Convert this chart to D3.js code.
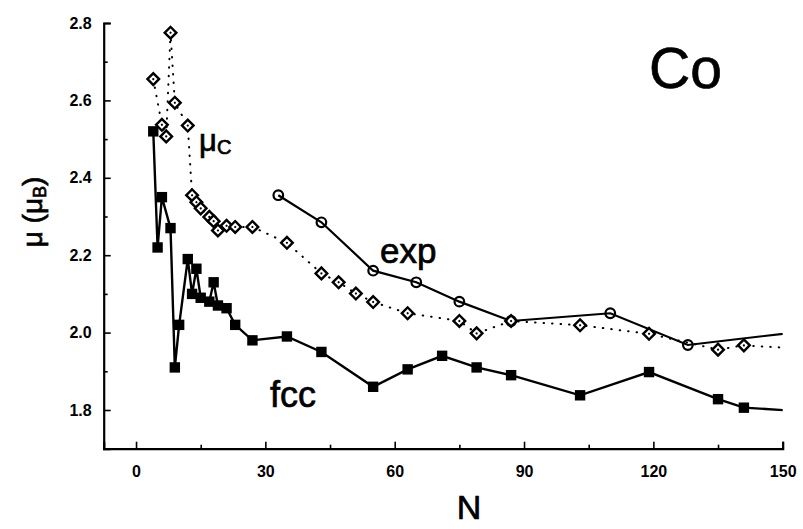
<!DOCTYPE html>
<html><head><meta charset="utf-8">
<script src="https://cdn.jsdelivr.net/npm/d3@7"></script>
<style>body{margin:0;background:#fff} svg{display:block}</style>
</head><body><svg id="c" width="803" height="529"></svg>
<script>
// ---- data ----
const fccN  = [4,5,6,8,9,10,12,13,14,15,17,18,19,21,23,27,35,43,55,63,71,79,87,103,119,135,141,160];
const fccMu = [2.52,2.22,2.35,2.27,1.91,2.02,2.19,2.10,2.165,2.09,2.08,2.13,2.07,2.063,2.02,1.98,1.99,1.95,1.86,1.905,1.94,1.91,1.89,1.838,1.898,1.828,1.806,1.793];
const expN  = [33,43,55,65,75,87,110,128,160];
const expMu = [2.355,2.285,2.16,2.13,2.08,2.03,2.05,1.968,2.01];
const mucN  = [4,6,7,8,9,12,13,14,15,17,18,19,21,23,27,35,43,47,51,55,63,75,79,87,103,119,135,141,160];
const mucMu = [2.655,2.537,2.507,2.775,2.594,2.535,2.355,2.337,2.321,2.299,2.288,2.264,2.276,2.273,2.273,2.232,2.153,2.13,2.101,2.079,2.05,2.03,1.998,2.03,2.019,1.997,1.956,1.967,1.955];
const xMajor = [0,30,60,90,120,150];
const xMinor = [15,45,75,105,135];
const yMajor = [1.8,2.0,2.2,2.4,2.6,2.8];
const yMinor = [1.9,2.1,2.3,2.5,2.7];

// ---- scales ----
const svg = d3.select("#c");
const x = d3.scaleLinear().domain([-7.5,150]).range([103.7,782.7]);
const y = d3.scaleLinear().domain([1.7,2.8]).range([448.7,23]);
const font = "'Liberation Sans', Arial, Helvetica, sans-serif";

svg.append("defs").append("clipPath").attr("id","clip")
  .append("rect").attr("x",x(-7.5)).attr("y",0).attr("width",x(150)-x(-7.5)).attr("height",529);

// ---- axes ----
const gy = svg.append("g").attr("transform",`translate(${x(-7.5)},0)`)
  .call(d3.axisLeft(y).tickValues(yMajor).tickSize(-7).tickSizeOuter(-7).tickPadding(12).tickFormat(d3.format(".1f")));
const gyMin = svg.append("g").attr("transform",`translate(${x(-7.5)},0)`)
  .call(d3.axisLeft(y).tickValues(yMinor).tickSize(-4).tickFormat(""));
gyMin.select(".domain").remove();
const gx = svg.append("g").attr("transform",`translate(0,${y(1.7)})`)
  .call(d3.axisBottom(x).tickValues(xMajor).tickSize(-7).tickSizeOuter(-7).tickPadding(17));
const gxMin = svg.append("g").attr("transform",`translate(0,${y(1.7)})`)
  .call(d3.axisBottom(x).tickValues(xMinor).tickSize(-4).tickFormat(""));
gxMin.select(".domain").remove();
svg.selectAll(".domain").attr("stroke","#000").attr("stroke-width",2.2);
svg.selectAll(".tick line").attr("stroke","#000").attr("stroke-width",1.6);
svg.selectAll(".tick text").attr("font-family",font).attr("font-weight","bold").attr("font-size",16).attr("fill","#000");

// ---- plot ----
const plot = svg.append("g").attr("clip-path","url(#clip)");
const fcc = fccN.map((n,i)=>[n,fccMu[i]]);
const exp = expN.map((n,i)=>[n,expMu[i]]);
const muc = mucN.map((n,i)=>[n,mucMu[i]]);
const line = d3.line().x(d=>x(d[0])).y(d=>y(d[1]));

plot.append("path").attr("d",line(muc)).attr("fill","none").attr("stroke","#000")
  .attr("stroke-width",2).attr("stroke-linecap","round").attr("stroke-dasharray","0.5,8");
plot.append("path").attr("d",line(exp)).attr("fill","none").attr("stroke","#000").attr("stroke-width",2.2);
plot.append("path").attr("d",line(fcc)).attr("fill","none").attr("stroke","#000").attr("stroke-width",2.4);

const dia = d3.symbol().type(d3.symbolSquare).size(68);
const dg = plot.selectAll(".dia").data(muc).join("g")
  .attr("transform",d=>`translate(${x(d[0])},${y(d[1])}) rotate(45)`);
dg.append("path").attr("d",dia).attr("fill","#fff").attr("stroke","#000").attr("stroke-width",2.4);
dg.append("circle").attr("r",1.1).attr("fill","#000");

plot.selectAll(".circ").data(exp).join("circle")
  .attr("cx",d=>x(d[0])).attr("cy",d=>y(d[1])).attr("r",4.8)
  .attr("fill","none").attr("stroke","#000").attr("stroke-width",2.2);

plot.selectAll(".sq").data(fcc).join("rect")
  .attr("x",d=>x(d[0])-5.2).attr("y",d=>y(d[1])-5.2).attr("width",10.4).attr("height",10.4).attr("fill","#000");

// ---- labels ----
const t = (tx,ty,s,size)=>svg.append("text").attr("x",tx).attr("y",ty).attr("font-family",font)
  .attr("font-size",size).attr("fill","#000").attr("stroke","#000").attr("stroke-width",0.7).text(s);
t(649,88,"Co",57);
t(380,263,"exp",35);
t(270,407,"fcc",36);
const mu = svg.append("text").attr("x",199).attr("y",151).attr("font-family",font).attr("font-size",31)
  .attr("fill","#000").attr("stroke","#000").attr("stroke-width",0.7);
mu.append("tspan").text("μ");
mu.append("tspan").attr("font-size",20).attr("dy",3).text("C");
svg.append("text").attr("x",469).attr("y",519).attr("text-anchor","middle").attr("font-family",font)
  .attr("font-size",34).attr("fill","#000").attr("stroke","#000").attr("stroke-width",0.7).text("N");
const yl = svg.append("text").attr("transform","translate(42,212) rotate(-90)").attr("text-anchor","middle")
  .attr("font-family",font).attr("font-size",28).attr("fill","#000").attr("stroke","#000").attr("stroke-width",0.7);
yl.append("tspan").text("μ  (μ");
yl.append("tspan").attr("font-size",18).attr("dy",4).text("B");
yl.append("tspan").attr("dy",-4).text(")");
</script></body></html>
